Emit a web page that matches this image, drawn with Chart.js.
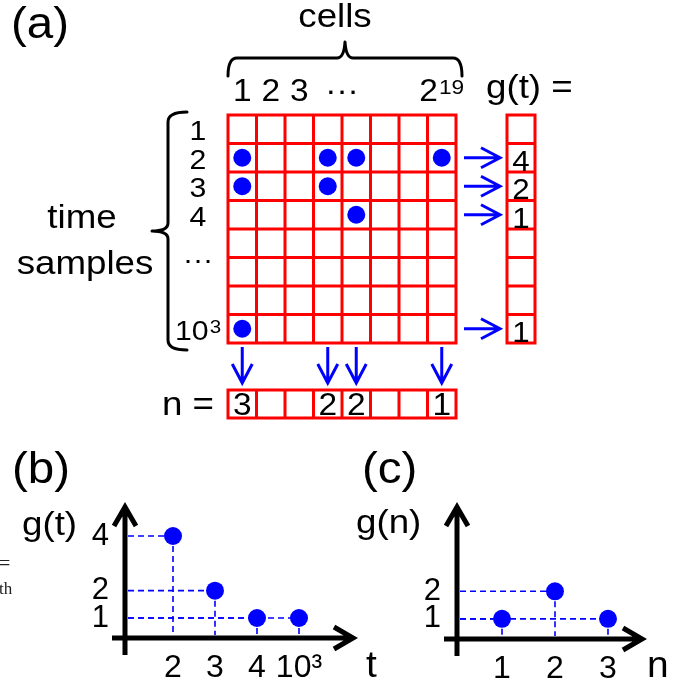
<!DOCTYPE html>
<html>
<head>
<meta charset="utf-8">
<script src="https://cdn.jsdelivr.net/npm/chart.js@4.4.1/dist/chart.umd.min.js"></script>
<style>
  html, body { margin: 0; padding: 0; background: #fff; }
  #wrap { position: relative; width: 682px; height: 684px; overflow: hidden; background: #fff; }
  #wrap canvas { position: absolute; left: 0; top: 0; }
</style>
</head>
<body>
<div id="wrap">
  <canvas id="panelA" width="682" height="684"></canvas>
  <canvas id="panelB" width="682" height="684"></canvas>
  <canvas id="panelC" width="682" height="684"></canvas>
</div>
<script>
// ---------- data ----------
// rows of the occupancy matrix (time samples) and columns (cells); '^' marks a superscript
const timeLabels = ['1', '2', '3', '4', '···', '', '', '10^3'];
const cellLabels = ['1', '2', '3', '···', '', '', '', '2^19'];
// occupied (time sample, cell) pairs, 1-based row / column
const hitTimes = [2, 2, 2, 2, 3, 3, 4, 8];
const hitCells = [1, 4, 5, 8, 1, 4, 5, 1];
// g(t): number of occupied cells at each listed time sample
const tTicks = ['2', '3', '4', '10³'];
const gOfT = [4, 2, 1, 1];
// g(n): number of cells that were occupied n times
const nTicks = ['1', '2', '3'];
const gOfN = [1, 2, 1];

// ---------- styling ----------
const RED = '#ff0000';
const BLUE = '#0000ff';
const INK = '#000000';
const FONT = '"Liberation Sans", Arial, Helvetica, sans-serif';
const WIDEN = 1.08;   // slightly wide lettering for the annotation text
Chart.defaults.font.family = FONT;
Chart.defaults.color = INK;

// per-row and per-column hit counts
const rowCounts = timeLabels.map((_, j) => hitTimes.filter(t => t === j + 1).length);
const colCounts = cellLabels.map((_, i) => hitCells.filter(c => c === i + 1).length);

// text with an optional superscript written as "base^sup"
function text(ctx, str, x, y, size, align) {
  const [base, sup] = String(str).split('^');
  const ss = Math.round(size * 0.68);
  ctx.font = size + 'px ' + FONT;
  const bw = ctx.measureText(base).width;
  let sw = 0;
  if (sup) { ctx.font = ss + 'px ' + FONT; sw = ctx.measureText(sup).width + 1; }
  const total = (bw + sw) * WIDEN;
  const x0 = align === 'center' ? x - total / 2 : align === 'right' ? x - total : x;
  ctx.save();
  ctx.translate(x0, y);
  ctx.scale(WIDEN, 1);
  ctx.textAlign = 'left';
  ctx.textBaseline = 'alphabetic';
  ctx.fillStyle = INK;
  ctx.font = size + 'px ' + FONT;
  ctx.fillText(base, 0, 0);
  if (sup) {
    ctx.font = ss + 'px ' + FONT;
    ctx.fillText(sup, bw + 1, -0.716 * (size - ss));
  }
  ctx.restore();
}

function arrow(ctx, x0, y0, x1, y1) {
  const a = Math.atan2(y1 - y0, x1 - x0), L = 19, W = 10;
  const bx = x1 - L * Math.cos(a), by = y1 - L * Math.sin(a);
  const nx = -Math.sin(a) * W, ny = Math.cos(a) * W;
  ctx.beginPath();
  ctx.moveTo(x0, y0); ctx.lineTo(x1, y1);
  ctx.moveTo(bx + nx, by + ny); ctx.lineTo(x1, y1); ctx.lineTo(bx - nx, by - ny);
  ctx.stroke();
}

// ---------- panel (a): occupancy matrix ----------
const matrixPlugin = {
  id: 'matrix',
  beforeDatasetsDraw(chart) {
    const { ctx, chartArea: ca, scales: { x, y } } = chart;
    const nR = timeLabels.length, nC = cellLabels.length;
    const px = v => x.getPixelForValue(v), py = v => y.getPixelForValue(v);
    const gtL = ca.right + 51, gtR = ca.right + 79;
    const nT = ca.bottom + 47, nB = ca.bottom + 75;
    ctx.save();
    // red grid, g(t) column and n row
    ctx.strokeStyle = RED; ctx.lineWidth = 3; ctx.lineCap = 'square';
    ctx.beginPath();
    for (let i = 0; i <= nC; i++) {
      ctx.moveTo(px(i), py(0)); ctx.lineTo(px(i), py(nR));
      ctx.moveTo(px(i), nT); ctx.lineTo(px(i), nB);
    }
    for (let j = 0; j <= nR; j++) {
      ctx.moveTo(px(0), py(j)); ctx.lineTo(px(nC), py(j));
      ctx.moveTo(gtL, py(j)); ctx.lineTo(gtR, py(j));
    }
    ctx.moveTo(gtL, py(0)); ctx.lineTo(gtL, py(nR));
    ctx.moveTo(gtR, py(0)); ctx.lineTo(gtR, py(nR));
    ctx.moveTo(px(0), nT); ctx.lineTo(px(nC), nT);
    ctx.moveTo(px(0), nB); ctx.lineTo(px(nC), nB);
    ctx.stroke();

    // blue arrows to the sums
    ctx.strokeStyle = BLUE; ctx.lineWidth = 3; ctx.lineCap = 'butt'; ctx.lineJoin = 'miter';
    rowCounts.forEach((c, j) => {
      if (c > 0) { const yy = py(j + 0.5); arrow(ctx, ca.right + 8, yy, gtL - 7, yy); }
    });
    colCounts.forEach((c, i) => {
      if (c > 0) { const xx = px(i + 0.5); arrow(ctx, xx, ca.bottom + 4, xx, nT - 7); }
    });

    // braces
    ctx.strokeStyle = INK; ctx.lineWidth = 3; ctx.lineCap = 'round'; ctx.lineJoin = 'round';
    const yB = ca.top - 57, xl = ca.left, xr = ca.right + 6, xm = (xl + xr) / 2;
    ctx.beginPath();
    ctx.moveTo(xl, yB + 18); ctx.quadraticCurveTo(xl, yB, xl + 9, yB);
    ctx.lineTo(xm - 8, yB); ctx.quadraticCurveTo(xm - 1, yB, xm, yB - 16);
    ctx.quadraticCurveTo(xm + 1, yB, xm + 8, yB);
    ctx.lineTo(xr - 9, yB); ctx.quadraticCurveTo(xr, yB, xr, yB + 18);
    ctx.stroke();
    const xB = ca.left - 60, tp = ca.top - 3, bt = ca.bottom + 7, ym = (tp + bt) / 2, xh = ca.left - 41;
    ctx.beginPath();
    ctx.moveTo(xh, tp); ctx.quadraticCurveTo(xB, tp, xB, tp + 10);
    ctx.lineTo(xB, ym - 8); ctx.quadraticCurveTo(xB, ym, xB - 16, ym);
    ctx.quadraticCurveTo(xB, ym, xB, ym + 8);
    ctx.lineTo(xB, bt - 10); ctx.quadraticCurveTo(xB, bt, xh, bt);
    ctx.stroke();
    ctx.restore();
  },
  afterDraw(chart) {
    const { ctx, chartArea: ca, scales: { x, y } } = chart;
    const px = v => x.getPixelForValue(v), py = v => y.getPixelForValue(v);
    const gtL = ca.right + 51, gtR = ca.right + 79;
    const nB = ca.bottom + 75;
    ctx.save();
    text(ctx, '(a)', 11, 38, 44, 'left');
    text(ctx, 'cells', 335, 27, 34, 'center');
    cellLabels.forEach((s, i) => {
      if (!s) return;
      const xv = s === '···' ? i + 1 : i + 0.5;
      text(ctx, s, px(xv), ca.top - 14, 31, 'center');
    });
    text(ctx, 'g(t) =', 486, 98, 34, 'left');
    timeLabels.forEach((s, j) => {
      if (!s) return;
      const yv = s === '···' ? j + 1 : j + 0.5;
      text(ctx, s, ca.left - 30, py(yv) + 11, 28, 'center');
    });
    text(ctx, 'time', 82, 228, 34, 'center');
    text(ctx, 'samples', 85, 274, 34, 'center');
    rowCounts.forEach((c, j) => {
      if (c > 0) text(ctx, String(c), (gtL + gtR) / 2, py(j + 0.5) + 13, 29, 'center');
    });
    text(ctx, 'n =', 162, 415, 34, 'left');
    colCounts.forEach((c, i) => {
      if (c > 0) text(ctx, String(c), px(i + 0.5), nB - 3, 31, 'center');
    });
    ctx.restore();
  }
};

new Chart(document.getElementById('panelA'), {
  type: 'scatter',
  data: {
    datasets: [{
      data: hitTimes.map((t, k) => ({ x: hitCells[k] - 0.5, y: t - 0.5 })),
      backgroundColor: BLUE, borderWidth: 0, pointRadius: 9, pointHoverRadius: 9
    }]
  },
  options: {
    responsive: false, animation: false, events: [],
    layout: { padding: { left: 228, right: 226, top: 115, bottom: 341 } },
    scales: {
      x: { type: 'linear', min: 0, max: cellLabels.length, display: false },
      y: { type: 'linear', min: 0, max: timeLabels.length, reverse: true, display: false }
    },
    plugins: { legend: { display: false }, tooltip: { enabled: false } }
  },
  plugins: [matrixPlugin]
});

// ---------- panels (b) and (c): distributions with arrowed axes ----------
function arrowAxesPlugin(labels) {
  return {
    id: 'arrowAxes',
    beforeDatasetsDraw(chart) {
      const { ctx, chartArea: ca } = chart;
      const pts = chart.getDatasetMeta(0).data;
      ctx.save();
      // dashed guides from each point to both axes
      ctx.strokeStyle = BLUE; ctx.lineWidth = 1.6; ctx.setLineDash([6, 4]);
      pts.forEach(p => {
        ctx.beginPath(); ctx.moveTo(ca.left + 3, p.y); ctx.lineTo(p.x, p.y); ctx.stroke();
        ctx.beginPath(); ctx.moveTo(p.x, p.y); ctx.lineTo(p.x, ca.bottom - 3); ctx.stroke();
      });
      ctx.setLineDash([]);
      // axes with open arrowheads
      ctx.strokeStyle = INK; ctx.lineWidth = 5; ctx.lineCap = 'butt'; ctx.lineJoin = 'miter';
      ctx.beginPath();
      ctx.moveTo(ca.left, ca.bottom + 17); ctx.lineTo(ca.left, ca.top + 5);
      ctx.moveTo(ca.left - 11, ca.top + 24); ctx.lineTo(ca.left, ca.top + 5); ctx.lineTo(ca.left + 11, ca.top + 24);
      ctx.stroke();
      ctx.beginPath();
      ctx.moveTo(ca.left - 13, ca.bottom); ctx.lineTo(ca.right - 5, ca.bottom);
      ctx.moveTo(ca.right - 24, ca.bottom - 11); ctx.lineTo(ca.right - 5, ca.bottom); ctx.lineTo(ca.right - 24, ca.bottom + 11);
      ctx.stroke();
      ctx.restore();
    },
    afterDraw(chart) {
      const { ctx } = chart;
      ctx.save();
      labels(ctx);
      ctx.restore();
    }
  };
}

function distChart(id, xTickLabels, values, xRange, padding, labels) {
  return new Chart(document.getElementById(id), {
    type: 'scatter',
    data: {
      datasets: [{
        data: values.map((v, i) => ({ x: i + 1, y: v })),
        backgroundColor: BLUE, borderWidth: 0, pointRadius: 9, pointHoverRadius: 9
      }]
    },
    options: {
      responsive: false, animation: false, events: [],
      layout: { padding },
      scales: {
        x: {
          type: 'linear', min: xRange[0], max: xRange[1],
          grid: { display: false, drawTicks: false }, border: { display: false },
          afterBuildTicks: s => { s.ticks = xTickLabels.map((_, i) => ({ value: i + 1 })); },
          afterFit: s => { s.height = 40; },
          ticks: {
            font: { size: 32 }, color: INK, padding: 11, maxRotation: 0, autoSkip: false,
            callback: v => xTickLabels[v - 1]
          }
        },
        y: {
          type: 'linear', min: 0.268, max: 5.244,
          grid: { display: false, drawTicks: false }, border: { display: false },
          afterBuildTicks: s => {
            s.ticks = [...new Set(values)].sort((a, b) => a - b).map(v => ({ value: v }));
          },
          afterFit: s => { s.width = 50; },
          ticks: { font: { size: 31 }, color: INK, padding: 16, callback: v => String(v) }
        }
      },
      plugins: { legend: { display: false }, tooltip: { enabled: false } }
    },
    plugins: [arrowAxesPlugin(labels)]
  });
}

distChart('panelB', tTicks, gOfT, [-0.143, 5.405],
  { left: 75, right: 324, top: 502, bottom: 6 },
  ctx => {
    text(ctx, '(b)', 12, 483, 44, 'left');
    text(ctx, 'g(t)', 22, 535, 34, 'left');
    text(ctx, 't', 366, 677, 36, 'left');
    ctx.fillStyle = '#222';
    ctx.textAlign = 'left'; ctx.textBaseline = 'alphabetic';
    ctx.font = '20px "Liberation Serif", "Times New Roman", serif';
    ctx.fillText('=', -1, 570);
    ctx.font = '17px "Liberation Serif", "Times New Roman", serif';
    ctx.fillText('th', -1, 594);
  });

distChart('panelC', nTicks, gOfN, [0.151, 3.736],
  { left: 407, right: 35, top: 502, bottom: 5 },
  ctx => {
    text(ctx, '(c)', 362, 483, 44, 'left');
    text(ctx, 'g(n)', 356, 533, 34, 'left');
    text(ctx, 'n', 647, 677, 36, 'left');
  });
</script>
</body>
</html>
